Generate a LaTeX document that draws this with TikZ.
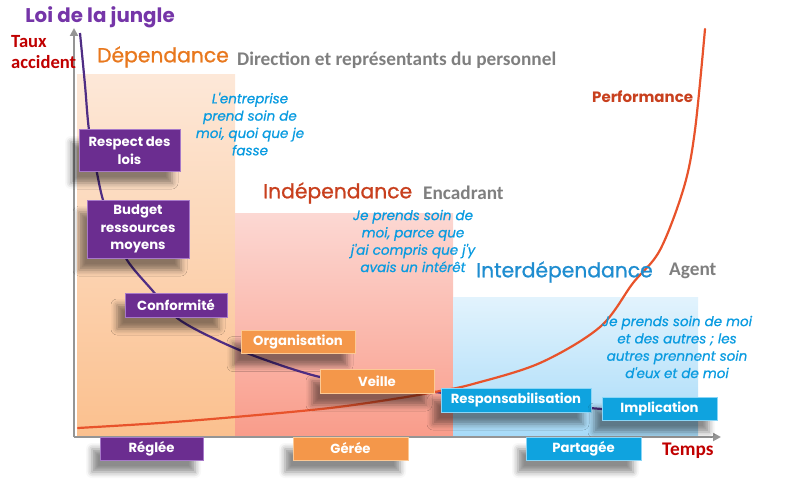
\documentclass[tikz,border=0pt]{standalone}
\usepackage{fontspec}
\setmainfont{Carlito}
\newfontfamily\cg{Poppins}
\newfontfamily\cgh{Poppins}[FakeBold=1]
\newfontfamily\cgi{Poppins}[FakeBold=0.8]
\newfontfamily\calib{Carlito}
\usetikzlibrary{arrows.meta,shadows.blur}
\definecolor{purpleBox}{HTML}{6B2D90}
\definecolor{purpleEdge}{HTML}{A779C9}
\definecolor{orangeBox}{HTML}{F4974A}
\definecolor{orangeEdge}{HTML}{FCC995}
\definecolor{blueBox}{HTML}{0FA3DF}
\definecolor{blueEdge}{HTML}{8AD6F7}
\definecolor{orgTop}{HTML}{FDE8D8}
\definecolor{orgBot}{HTML}{FBC08E}
\definecolor{pinkTop}{HTML}{FCD8D3}
\definecolor{pinkBot}{HTML}{F99C8A}
\definecolor{bluTop}{HTML}{E2F3FD}
\definecolor{bluBot}{HTML}{A8DBF8}
\definecolor{titlePurple}{HTML}{7535A8}
\definecolor{darkRed}{HTML}{C00000}
\definecolor{depOrange}{HTML}{E8781E}
\definecolor{indRed}{HTML}{C8401E}
\definecolor{intBlue}{HTML}{1F8DD0}
\definecolor{grayTxt}{HTML}{7F7F7F}
\definecolor{itBlue}{HTML}{0A9BE0}
\definecolor{curvePurple}{HTML}{4F2D84}
\definecolor{curveRed}{HTML}{E8532B}
\definecolor{axisGray}{HTML}{959595}
\begin{document}
\begin{tikzpicture}[x=1pt,y=-1pt,
  axis/.style={draw=axisGray, line width=2.2pt, -{Triangle[length=8pt,width=8pt]}},
  boxbase/.style={rectangle, inner sep=0pt, align=center, text=white,
    font=\cg\bfseries\fontsize{13.2}{17.5}\selectfont, line width=1pt,
    blur shadow={shadow xshift=-8pt, shadow yshift=-12pt, shadow blur radius=6pt, shadow opacity=45}},
  pbox/.style={boxbase, fill=purpleBox, draw=purpleEdge},
  obox/.style={boxbase, fill=orangeBox, draw=orangeEdge},
  bbox/.style={boxbase, fill=blueBox, draw=blueEdge},
  itxt/.style={align=center, text=itBlue, inner sep=0pt, font=\cgi\itshape\fontsize{13.5}{17.3}\selectfont},
  head/.style={anchor=west, inner sep=0pt, font=\cgh\fontsize{20.3}{24}\selectfont},
  sub/.style={anchor=west, inner sep=0pt, text=grayTxt, font=\calib\bfseries\fontsize{19.3}{22}\selectfont}
]
\useasboundingbox (0,0) rectangle (787,492);
% coloured zones
\shade[top color=orgTop, bottom color=orgBot] (77,75) rectangle (235,437);
\shade[top color=pinkTop, bottom color=pinkBot] (235,213) rectangle (453,437);
\shade[top color=bluTop, bottom color=bluBot] (453,297) rectangle (698,435);
% axes
\coordinate (O) at (74,437);
\coordinate (ytop) at (74,28);
\coordinate (xend) at (721,437);
\draw[axis] (O) -- (ytop);
\draw[axis] (O) -- (xend);
% curves
\draw[curvePurple, line width=2.2pt] plot[smooth, tension=0.55] coordinates {(80,33) (85,85) (89,130) (97,173) (103,200) (113,228) (127,260) (152,290) (177,318) (217,340) (260,358) (320,377) (380,386) (435,392) (520,402) (602,409)};
\draw[curveRed, line width=2.2pt, line cap=round] plot[smooth, tension=0.55] coordinates {(78,428) (160,423) (235,417) (330,408) (400,398) (440,391) (473,384) (540,363) (600,327) (633,283) (660,250) (684,187) (695,130) (705,29)};
% texts
\node[inner sep=0pt, text=titlePurple, font=\cg\bfseries\fontsize{19.8}{22}\selectfont] (title) at (100,17) {Loi de la jungle};
\node[anchor=west, inner sep=0pt, align=left, text=darkRed, font=\calib\bfseries\fontsize{18.6}{21}\selectfont] (taux) at (11,52) {Taux\\accident};
\node[head, text=depOrange] (dep) at (97,57) {Dépendance};
\node[sub] (dir) at (237,60) {Direction et représentants du personnel};
\node[head, text=indRed] (ind) at (263,193) {Indépendance};
\node[sub] (enc) at (423,193) {Encadrant};
\node[head, text=intBlue] (inter) at (476,272) {Interdépendance};
\node[sub] (agent) at (669,271) {Agent};
\node[anchor=west, inner sep=0pt, text=indRed, font=\cg\bfseries\fontsize{15}{17}\selectfont] (perf) at (592,97) {Performance};
\node[anchor=west, inner sep=0pt, text=darkRed, font=\calib\bfseries\fontsize{19.3}{20}\selectfont] (temps) at (662,451) {Temps};
\node[itxt] (t1) at (250,124) {L'entreprise\\prend soin de\\moi, quoi que je\\fasse};
\node[itxt] (t2) at (413,241) {Je prends soin de\\moi, parce que\\j'ai compris que j'y\\avais un intérêt};
\node[itxt] (t3) at (677,347) {Je prends soin de moi\\et des autres ; les\\autres prennent soin\\d'eux et de moi};
% boxes
\node[pbox, minimum width=101pt, minimum height=41pt] (respect) at (129.5,150.5) {Respect des\\lois};
\node[pbox, minimum width=102pt, minimum height=58pt] (budget) at (138,229) {Budget\\ressources\\moyens};
\node[pbox, minimum width=102pt, minimum height=24pt] (conf) at (176,305) {Conformité};
\node[pbox, minimum width=103pt, minimum height=23pt] (reglee) at (151.5,448.5) {Réglée};
\node[obox, minimum width=114pt, minimum height=23pt] (orga) at (298,342) {Organisation};
\node[obox, minimum width=114pt, minimum height=24pt] (veille) at (377,381) {Veille};
\node[obox, minimum width=115pt, minimum height=23pt] (geree) at (350.5,448.5) {Gérée};
\node[bbox, minimum width=150pt, minimum height=24pt] (resp) at (516,400) {Responsabilisation};
\node[bbox, minimum width=115pt, minimum height=23pt] (impl) at (659.5,408.5) {Implication};
\node[bbox, minimum width=115pt, minimum height=23pt] (part) at (583.5,448.5) {Partagée};
\end{tikzpicture}
\end{document}
